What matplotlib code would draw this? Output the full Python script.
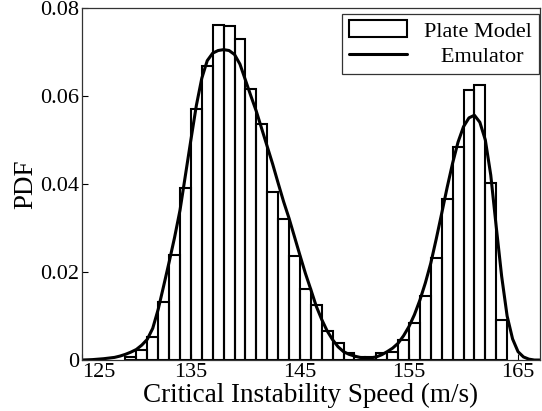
import matplotlib
matplotlib.use("Agg")
import matplotlib.pyplot as plt
import numpy as np

# Histogram (Plate Model): left bin edges and PDF heights (bin width 1 m/s)
bin_left = [129, 130, 131, 132, 133, 134, 135, 136, 137, 138, 139, 140, 141, 142,
            143, 144, 145, 146, 147, 148, 149, 150, 151, 152, 153, 154, 155, 156,
            157, 158, 159, 160, 161, 162, 163]
bin_pdf = [0.0008, 0.0022, 0.0052, 0.0131, 0.0238, 0.0390, 0.0571, 0.0668, 0.0761,
           0.0759, 0.0729, 0.0615, 0.0536, 0.0381, 0.0320, 0.0236, 0.0161, 0.0125,
           0.0066, 0.0038, 0.0017, 0.0008, 0.0008, 0.0015, 0.0019, 0.0045, 0.0085,
           0.0145, 0.0231, 0.0366, 0.0483, 0.0614, 0.0624, 0.0403, 0.0092]

# Emulator curve points
emu_x = [125, 126, 127, 128, 128.5, 129, 129.5, 130, 130.5, 131, 131.5, 132, 132.5,
         133, 133.5, 134, 134.5, 135, 135.5, 136, 136.5, 137, 137.5, 138, 138.5,
         139, 139.5, 140, 140.5, 141, 141.5, 142, 142.5, 143, 143.5, 144, 144.5,
         145, 145.5, 146, 146.5, 147, 147.5, 148, 148.5, 149, 149.5, 150, 150.5,
         151, 151.5, 152, 152.5, 153, 153.5, 154, 154.5, 155, 155.5, 156, 156.5,
         157, 157.5, 158, 158.5, 159, 159.5, 160, 160.5, 161, 161.5, 162, 162.5,
         163, 163.5, 164, 164.5, 165, 165.5, 166, 166.5, 167]
emu_y = [0.0, 0.0001, 0.0003, 0.0006, 0.0009, 0.0013, 0.0018, 0.0024, 0.0034, 0.0047,
         0.0072, 0.0115, 0.0168, 0.0222, 0.0278, 0.0340, 0.0420, 0.0500, 0.0578,
         0.0640, 0.0680, 0.0697, 0.0703, 0.0705, 0.0703, 0.0694, 0.0672, 0.0636,
         0.0600, 0.0565, 0.0525, 0.0485, 0.0445, 0.0402, 0.0360, 0.0322, 0.0280,
         0.0238, 0.0197, 0.0160, 0.0122, 0.0092, 0.0066, 0.0046, 0.0030, 0.0019,
         0.0013, 0.0009, 0.0006, 0.0005, 0.0005, 0.0007, 0.0012, 0.0019, 0.0027,
         0.0038, 0.0055, 0.0076, 0.0103, 0.0136, 0.0175, 0.0220, 0.0275, 0.0333,
         0.0392, 0.0447, 0.0495, 0.0530, 0.0550, 0.0556, 0.0540, 0.0500, 0.0420,
         0.0303, 0.0190, 0.0100, 0.0048, 0.0019, 0.0007, 0.0002, 0.0, 0.0]

xticks = [125, 135, 145, 155, 165]
yticks = [0, 0.02, 0.04, 0.06, 0.08]
ytick_labels = ["0", "0.02", "0.04", "0.06", "0.08"]

plt.rcParams['font.family'] = ['Liberation Serif', 'DejaVu Serif']

fig = plt.figure(figsize=(5.42, 4.11), dpi=100)
ax = fig.add_axes([0.151, 0.124, 0.845, 0.857])

bars = ax.bar(bin_left, bin_pdf, width=1.0, align='edge', fill=False,
              edgecolor='black', linewidth=1.5, label='Plate Model')
line, = ax.plot(emu_x, emu_y, color='black', linewidth=2.2, label='   Emulator',
                solid_capstyle='round', solid_joinstyle='round')

ax.set_xlim(125, 167)
ax.set_ylim(0, 0.08)
ax.set_xticks(xticks)
ax.set_xticklabels([str(t) for t in xticks])
ax.set_yticks(yticks)
ax.set_yticklabels(ytick_labels)
ax.tick_params(direction='in', length=4, width=0.8, labelsize=16, pad=2)
ax.get_xticklabels()[0].set_horizontalalignment('left')

for s in ax.spines.values():
    s.set_linewidth(0.9)
    s.set_color('#333333')

ax.set_xlabel('Critical Instability Speed (m/s)', fontsize=19.5, labelpad=1)
ax.set_ylabel('PDF', fontsize=19.5, labelpad=1)

leg = ax.legend([bars, line], ['Plate Model', '   Emulator'],
                loc='upper right', bbox_to_anchor=(0.998, 0.983),
                fontsize=16, frameon=True, fancybox=False,
                edgecolor='#333333', framealpha=1, borderaxespad=0.0,
                handlelength=2.6, handleheight=0.8, borderpad=0.3,
                labelspacing=0.2, handletextpad=0.8)
leg.get_frame().set_linewidth(0.9)

fig.savefig('out.png', dpi=100)
